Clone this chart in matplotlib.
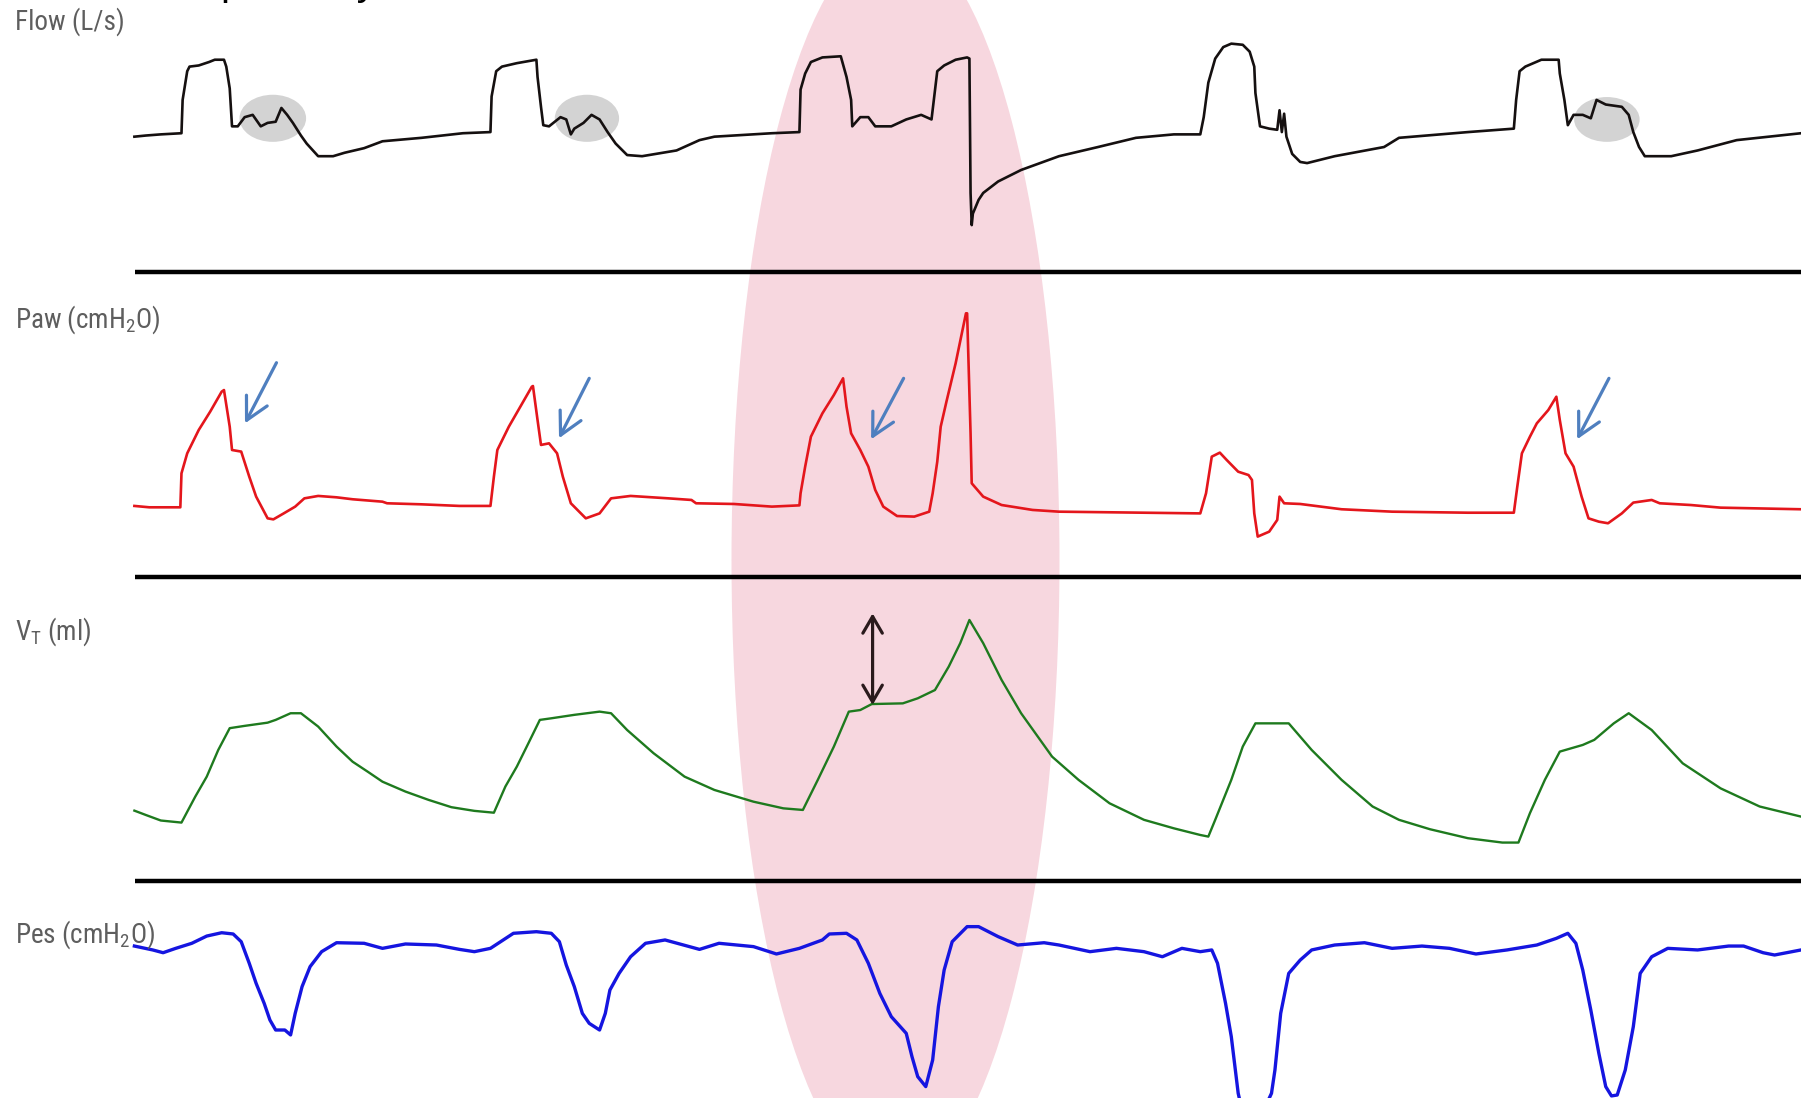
import matplotlib
matplotlib.use("Agg")
import matplotlib.pyplot as plt
from matplotlib.patches import Ellipse, FancyArrowPatch
from matplotlib.lines import Line2D
from matplotlib import font_manager
from matplotlib.font_manager import FontProperties

# ---------------- data (time in s, values in signal units) ----------------
flow_t = [0.00, 0.10, 0.23, 0.41, 0.42, 0.46, 0.48, 0.56, 0.65, 0.70, 0.78, 0.80, 0.83, 0.85,
          0.90, 0.96, 1.03, 1.10, 1.16, 1.23, 1.28, 1.33, 1.38, 1.45, 1.50, 1.60, 1.73, 1.83,
          2.00, 2.16, 2.50, 2.86, 3.10, 3.11, 3.15, 3.20, 3.33, 3.50, 3.51, 3.54, 3.56, 3.61,
          3.71, 3.76, 3.80, 3.83, 3.91, 3.98, 4.05, 4.12, 4.19, 4.29, 4.42, 4.72, 4.92, 5.05,
          5.55, 5.79, 5.80, 5.84, 5.89, 5.99, 6.15, 6.20, 6.24, 6.25, 6.32, 6.39, 6.45, 6.59,
          6.72, 6.85, 6.94, 6.96, 6.99, 7.05, 7.15, 7.25, 7.27, 7.28, 7.29, 7.30, 7.35, 7.39,
          7.52, 7.72, 8.05, 8.39, 8.72, 9.05, 9.28, 9.31, 9.35, 9.41, 9.48, 9.55, 9.65, 9.71,
          9.75, 9.76, 9.80, 9.88, 9.95, 9.97, 9.99, 10.01, 10.03, 10.08, 10.15, 10.21, 10.45,
          10.88, 11.01, 11.61, 12.01, 12.03, 12.06, 12.11, 12.25, 12.40, 12.41, 12.45, 12.48,
          12.53, 12.61, 12.68, 12.73, 12.81, 12.95, 13.01, 13.05, 13.10, 13.15, 13.38, 13.61,
          13.95, 14.51]
flow_v = [-0.01, 0.00, 0.01, 0.02, 0.31, 0.56, 0.60, 0.61, 0.64, 0.66, 0.66, 0.60, 0.41, 0.08,
          0.08, 0.16, 0.18, 0.08, 0.11, 0.12, 0.24, 0.18, 0.11, 0.00, -0.07, -0.18, -0.18, -0.15,
          -0.11, -0.05, -0.02, 0.02, 0.03, 0.34, 0.56, 0.60, 0.63, 0.66, 0.51, 0.25, 0.09, 0.08,
          0.16, 0.14, 0.01, 0.06, 0.11, 0.18, 0.14, 0.03, -0.07, -0.17, -0.18, -0.13, -0.04, -0.01,
          0.02, 0.03, 0.40, 0.54, 0.64, 0.68, 0.69, 0.51, 0.31, 0.08, 0.16, 0.16, 0.08, 0.08,
          0.14, 0.18, 0.14, 0.31, 0.56, 0.61, 0.66, 0.68, 0.67, -0.50, -0.78, -0.68, -0.56, -0.50,
          -0.40, -0.30, -0.18, -0.10, -0.02, 0.01, 0.01, 0.16, 0.46, 0.67, 0.77, 0.80, 0.79, 0.73,
          0.60, 0.37, 0.08, 0.06, 0.05, 0.22, 0.03, 0.19, -0.01, -0.16, -0.23, -0.24, -0.18,
          -0.10, -0.02, 0.03, 0.06, 0.31, 0.56, 0.60, 0.66, 0.66, 0.54, 0.31, 0.09,
          0.18, 0.18, 0.15, 0.31, 0.27, 0.25, 0.18, 0.03, -0.10, -0.18, -0.18, -0.13,
          -0.04, 0.02]

paw_t = [0.00, 0.13, 0.40, 0.41, 0.46, 0.56, 0.66, 0.76, 0.78, 0.83, 0.85, 0.93, 1.00, 1.06,
         1.16, 1.21, 1.30, 1.40, 1.48, 1.60, 1.76, 1.90, 2.16, 2.20, 2.50, 2.83, 3.10, 3.13,
         3.16, 3.26, 3.36, 3.46, 3.47, 3.51, 3.54, 3.61, 3.68, 3.73, 3.80, 3.93, 4.05, 4.15,
         4.32, 4.65, 4.85, 4.89, 5.22, 5.55, 5.79, 5.80, 5.84, 5.89, 5.99, 6.09, 6.17, 6.20,
         6.24, 6.32, 6.39, 6.45, 6.52, 6.64, 6.79, 6.92, 6.95, 6.99, 7.02, 7.07, 7.15, 7.24,
         7.25, 7.28, 7.29, 7.39, 7.55, 7.82, 8.05, 9.28, 9.33, 9.38, 9.45, 9.51, 9.61, 9.70,
         9.73, 9.75, 9.78, 9.88, 9.95, 9.97, 10.01, 10.15, 10.51, 10.95, 11.61, 12.01, 12.04,
         12.08, 12.15, 12.21, 12.31, 12.38, 12.41, 12.46, 12.53, 12.60, 12.66, 12.75, 12.83,
         12.95, 13.05, 13.21, 13.28, 13.55, 13.81, 14.51]
paw_v = [4.95, 4.83, 4.83, 7.79, 9.53, 11.56, 13.16, 14.90, 15.04, 11.85, 9.82, 9.68, 7.50, 5.76,
         3.87, 3.78, 4.30, 4.89, 5.61, 5.82, 5.70, 5.53, 5.32, 5.18, 5.09, 4.95, 4.95, 7.50,
         9.82, 11.85, 13.59, 15.33, 15.39, 12.43, 10.26, 10.40, 9.53, 7.50, 5.18, 3.87, 4.30, 5.61,
         5.82, 5.61, 5.47, 5.18, 5.12, 4.89, 5.00, 6.05, 8.37, 10.98, 13.01, 14.61, 16.06, 13.59,
         11.27, 9.82, 8.37, 6.34, 4.89, 4.07, 4.02, 4.45, 6.05, 8.80, 11.85, 14.03, 17.37, 21.72,
         21.72, 11.27, 6.92, 5.76, 5.03, 4.60, 4.45, 4.30, 6.05, 9.24, 9.59, 8.95, 7.93, 7.64,
         7.21, 4.30, 2.28, 2.71, 3.73, 5.76, 5.18, 5.12, 4.66, 4.45, 4.36, 4.36, 6.63,
         9.53, 10.98, 12.14, 13.30, 14.46, 12.43, 9.53, 8.37, 5.76, 3.87, 3.58, 3.44,
         4.30, 5.24, 5.47, 5.18, 5.03, 4.80, 4.66]

vt_t = [0.00, 0.10, 0.23, 0.41, 0.53, 0.63, 0.73, 0.83, 0.96, 1.16, 1.23, 1.36, 1.45, 1.60,
        1.76, 1.90, 2.03, 2.16, 2.36, 2.56, 2.76, 2.96, 3.13, 3.23, 3.33, 3.43, 3.53, 3.63,
        3.83, 4.05, 4.15, 4.29, 4.52, 4.79, 5.05, 5.39, 5.65, 5.82, 5.95, 6.09, 6.22, 6.32,
        6.42, 6.69, 6.82, 6.97, 7.09, 7.19, 7.27, 7.39, 7.55, 7.72, 7.99, 8.22, 8.49, 8.79,
        9.05, 9.28, 9.35, 9.41, 9.55, 9.65, 9.76, 10.05, 10.25, 10.51, 10.78, 11.01, 11.28,
        11.61, 11.91, 12.05, 12.15, 12.28, 12.41, 12.61, 12.71, 12.88, 13.01, 13.21, 13.48,
        13.81, 14.15, 14.51]
vt_v = [146, 127, 103, 94, 207, 294, 410, 505, 515, 529, 541, 570, 570, 512,
        425, 359, 316, 272, 229, 193, 161, 145, 137, 251, 338, 439, 541, 548,
        563, 577, 570, 497, 396, 294, 236, 185, 156, 149, 280, 425, 577, 584,
        610, 613, 635, 671, 773, 875, 976, 875, 715, 570, 381, 280, 178, 106,
        69, 40, 33, 106, 280, 425, 526, 526, 410, 280, 164, 106, 65,
        26, 7, 7, 135, 280, 403, 432, 454, 526, 570, 497, 352,
        243, 164, 120]

pes_t = [0.00, 0.16, 0.25, 0.36, 0.50, 0.63, 0.76, 0.86, 0.93, 1.00, 1.06, 1.13, 1.18, 1.23,
         1.31, 1.36, 1.40, 1.46, 1.53, 1.63, 1.76, 2.00, 2.16, 2.36, 2.63, 2.83, 2.96, 3.10,
         3.30, 3.50, 3.63, 3.70, 3.76, 3.83, 3.90, 3.96, 4.05, 4.10, 4.14, 4.22, 4.32, 4.45,
         4.62, 4.92, 5.09, 5.39, 5.59, 5.79, 5.99, 6.05, 6.20, 6.29, 6.39, 6.49, 6.59, 6.72,
         6.77, 6.82, 6.89, 6.95, 7.00, 7.05, 7.12, 7.25, 7.35, 7.52, 7.69, 7.92, 8.05, 8.32,
         8.55, 8.79, 8.95, 9.12, 9.28, 9.38, 9.43, 9.50, 9.55, 9.61, 9.64, 9.83, 9.90, 9.93,
         9.98, 10.05, 10.15, 10.25, 10.45, 10.71, 10.95, 11.21, 11.45, 11.68, 11.95, 12.21,
         12.38, 12.48, 12.55, 12.61, 12.68, 12.75, 12.81, 12.86, 12.91, 12.98, 13.05, 13.11,
         13.21, 13.35, 13.61, 13.88, 14.01, 14.18, 14.28, 14.51]
pes_v = [0.13, -0.21, -0.45, -0.07, 0.37, 1.00, 1.29, 1.18, 0.51, -1.37, -3.12, -4.86, -6.31, -7.18,
         -7.18, -7.61, -5.73, -3.40, -1.66, -0.36, 0.42, 0.37, -0.07, 0.31, 0.22, -0.16, -0.36, -0.07,
         1.24, 1.38, 1.24, 0.51, -1.52, -3.40, -5.73, -6.60, -7.18, -5.73, -3.70, -2.25, -0.80, 0.37,
         0.66, -0.16, 0.37, 0.08, -0.56, -0.07, 0.66, 1.18, 1.24, 0.66, -1.37, -3.99, -6.02, -7.47,
         -9.50, -11.24, -12.11, -9.79, -5.15, -1.96, 0.51, 1.82, 1.82, 0.95, 0.22, 0.42, 0.22, -0.36,
         -0.07, -0.36, -0.80, -0.07, -0.36, -0.21, -1.37, -4.86, -7.76, -12.69, -14.00, -14.20, -12.69, -10.66,
         -5.73, -2.25, -1.09, -0.21, 0.22, 0.42, -0.07, 0.13, -0.07, -0.56, -0.21, 0.22,
         0.80, 1.24, 0.37, -1.96, -5.44, -9.21, -12.11, -12.92, -12.84, -10.66, -6.89, -2.25,
         -0.80, -0.07, -0.21, 0.13, 0.13, -0.45, -0.65, -0.21]

panel_labels = ["Flow (L/s)", "Paw (cmH$_2$O)", "V$_T$ (ml)", "Pes (cmH$_2$O)"]

# highlighted flow regions (centre time, centre flow, duration, flow span)
flow_marks_t = [1.205, 3.94, 12.82]
flow_marks_v = [0.15, 0.15, 0.14]
flow_marks_w = [0.58, 0.56, 0.57]
flow_marks_h = [0.41, 0.41, 0.39]

# blue arrows on Paw (tail t, tail v, head t, head v)
paw_arrows = [(1.237, 17.42, 0.963, 12.14),
              (3.960, 16.06, 3.697, 10.84),
              (6.697, 16.06, 6.414, 10.75),
              (12.838, 16.06, 12.561, 10.75)]
# double arrow on VT (t, v_low, v_high)
vt_arrow = (6.427, 606, 1005)

# ---------------- fonts ----------------
def pick_label_font():
    ttf = font_manager.fontManager.ttflist
    for want in ["Liberation Sans Narrow", "Roboto Condensed", "Open Sans Condensed",
                 "Noto Sans Condensed", "Noto Sans Display Condensed"]:
        for f in ttf:
            if f.name == want and f.style == "normal" and f.weight in (300, 400, "normal", "light"):
                return FontProperties(fname=f.fname)
    for f in ttf:
        if ("Condensed" in f.name or "Narrow" in f.name) and f.style == "normal":
            return FontProperties(fname=f.fname)
    for f in ttf:
        if f.name == "DejaVu Sans" and "condensed" in str(f.stretch) and f.style == "normal" \
                and f.weight in (400, "normal"):
            return FontProperties(fname=f.fname)
    return FontProperties(family="DejaVu Sans")


lab_prop = pick_label_font()
plt.rcParams["mathtext.default"] = "regular"

# ---------------- figure ----------------
W, H = 1801, 1098
fig = plt.figure(figsize=(W / 100, H / 100), dpi=100)
fig.patch.set_facecolor("white")

# pink highlight ellipse spanning all panels
fig.add_artist(Ellipse((895.5 / W, 1 - 560 / H), 328 / W, 1244 / H,
                       transform=fig.transFigure, facecolor="#F7D7DF",
                       edgecolor="none", zorder=-2))

# separator lines
for ypix in [271.5, 577, 881]:
    fig.add_artist(Line2D([135 / W, 1.0], [1 - ypix / H, 1 - ypix / H],
                          transform=fig.transFigure, color="black", lw=3.2,
                          solid_capstyle="butt", zorder=-1))

XL = (-1.17, 14.51)


def make_ax(ylim):
    ax = fig.add_axes([0, 0, 1, 1])
    ax.set_xlim(*XL)
    ax.set_ylim(*ylim)
    ax.axis("off")
    ax.patch.set_alpha(0)
    return ax


ax_flow = make_ax((-8.38, 1.18))
ax_paw = make_ax((-46.6, 49.0))
ax_vt = make_ax((-1105, 3675))
ax_pes = make_ax((-13.1, 82.5))

for tc, vc, w, h in zip(flow_marks_t, flow_marks_v, flow_marks_w, flow_marks_h):
    ax_flow.add_patch(Ellipse((tc, vc), w, h, facecolor="#D3D3D3", edgecolor="none", zorder=1))

ax_flow.plot(flow_t, flow_v, color="#151010", lw=1.9, zorder=3)
ax_paw.plot(paw_t, paw_v, color="#E4161C", lw=1.9, zorder=3)
ax_vt.plot(vt_t, vt_v, color="#1E7A1E", lw=1.7, zorder=3)
ax_pes.plot(pes_t, pes_v, color="#1515E0", lw=2.4, zorder=3)

for t0, v0, t1, v1 in paw_arrows:
    ax_paw.add_patch(FancyArrowPatch((t0, v0), (t1, v1),
                                     arrowstyle="->,head_length=0.8,head_width=0.42",
                                     mutation_scale=20, color="#4F7FBF", lw=2.3,
                                     shrinkA=0, shrinkB=0, zorder=4))

ta, va0, va1 = vt_arrow
ax_vt.add_patch(FancyArrowPatch((ta, va0), (ta, va1),
                                arrowstyle="<->,head_length=0.6,head_width=0.35",
                                mutation_scale=20, color="#2A1A1C", lw=2.3,
                                shrinkA=0, shrinkB=0, zorder=4))

# panel labels, size fitted so "Flow (L/s)" is ~109 px wide
probe = fig.text(0, 0, panel_labels[0], fontproperties=lab_prop, fontsize=20)
renderer = fig.canvas.get_renderer()
wpx = probe.get_window_extent(renderer).width
probe.remove()
lab_size = 20 * 109.0 / wpx

label_base = [30, 328, 640, 943]
for lab, yb in zip(panel_labels, label_base):
    fig.text(15 / W, 1 - yb / H, lab, fontproperties=lab_prop, fontsize=lab_size,
             color="#5E5E5E", ha="left", va="baseline", zorder=5)

# clipped caption line from above the figure (only descenders visible)
fig.text(143 / W, 1 + 5 / H, ", respectively", fontsize=28.8, color="black",
         family="Liberation Sans", ha="left", va="baseline")

fig.savefig("out.png", dpi=100)
